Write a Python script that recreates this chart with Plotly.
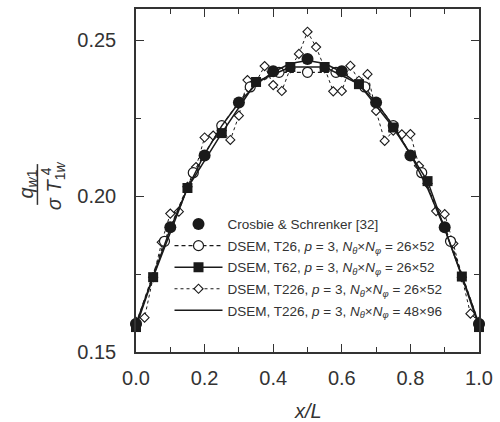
import plotly.graph_objects as go

# ---------------- data ----------------
x_crosbie = [0.0, 0.1, 0.2, 0.3, 0.4, 0.5, 0.6, 0.7, 0.8, 0.9, 1.0]
y_crosbie = [0.159, 0.190, 0.213, 0.230, 0.240, 0.244, 0.240, 0.230, 0.213, 0.190, 0.159]

x_t26 = [0.0, 0.083, 0.167, 0.25, 0.333, 0.417, 0.5, 0.583, 0.667, 0.75, 0.833, 0.917, 1.0]
y_t26 = [0.159, 0.1855, 0.2075, 0.2226, 0.2350, 0.2397, 0.2397, 0.2397, 0.2350, 0.2226, 0.2075, 0.1855, 0.159]

x_t62 = [0.0, 0.05, 0.15, 0.25, 0.35, 0.45, 0.55, 0.65, 0.75, 0.85, 0.95, 1.0]
y_t62 = [0.158, 0.174, 0.2026, 0.2202, 0.2366, 0.2414, 0.2414, 0.2359, 0.2220, 0.2048, 0.1742, 0.158]

x_t226a = [0.0, 0.025, 0.05, 0.075, 0.1, 0.125, 0.15, 0.175, 0.2, 0.225, 0.25, 0.275,
           0.3, 0.325, 0.35, 0.375, 0.4, 0.425, 0.45, 0.475, 0.5, 0.525, 0.55, 0.575,
           0.6, 0.625, 0.65, 0.675, 0.7, 0.725, 0.75, 0.775, 0.8, 0.825, 0.85, 0.875,
           0.9, 0.925, 0.95, 0.975, 1.0]
y_t226a = [0.1597, 0.1610, 0.1740, 0.1852, 0.1944, 0.1950, 0.2030, 0.2093, 0.2188, 0.2194, 0.2210, 0.2180,
           0.2258, 0.2372, 0.2366, 0.2417, 0.2356, 0.2337, 0.2410, 0.2456, 0.2527, 0.2478, 0.2410, 0.2336,
           0.2337, 0.2418, 0.2370, 0.2391, 0.2273, 0.2177, 0.2210, 0.2198, 0.2199, 0.2097, 0.2040, 0.1952,
           0.1942, 0.1848, 0.1740, 0.1623, 0.1597]

x_t226b = [0.0, 0.05, 0.1, 0.15, 0.2, 0.25, 0.3, 0.35, 0.4, 0.45, 0.5,
           0.55, 0.6, 0.65, 0.7, 0.75, 0.8, 0.85, 0.9, 0.95, 1.0]
y_t226b = [0.159, 0.1745, 0.1895, 0.2025, 0.2135, 0.2225, 0.2300, 0.2358, 0.2398, 0.2425, 0.2435,
           0.2425, 0.2398, 0.2358, 0.2300, 0.2225, 0.2135, 0.2025, 0.1895, 0.1745, 0.159]

names = [
    "Crosbie & Schrenker [32]",
    "DSEM, T26, <i>p</i> = 3, <i>N</i><sub><i>θ</i></sub>×<i>N</i><sub><i>φ</i></sub> = 26×52",
    "DSEM, T62, <i>p</i> = 3, <i>N</i><sub><i>θ</i></sub>×<i>N</i><sub><i>φ</i></sub> = 26×52",
    "DSEM, T226, <i>p</i> = 3, <i>N</i><sub><i>θ</i></sub>×<i>N</i><sub><i>φ</i></sub> = 26×52",
    "DSEM, T226, <i>p</i> = 3, <i>N</i><sub><i>θ</i></sub>×<i>N</i><sub><i>φ</i></sub> = 48×96",
]

INK = "#1a1a1a"
TXT = "#333333"
FONT = "Liberation Sans, Arial, Helvetica, sans-serif"

fig = go.Figure()

fig.add_trace(go.Scatter(
    x=x_t226a, y=y_t226a, mode="lines+markers", name=names[3], legendrank=4,
    legendgroup="d", cliponaxis=False,
    line=dict(color=INK, width=1, dash="dot"),
    marker=dict(symbol="diamond", size=7, color="white", line=dict(color=INK, width=1.1))))

fig.add_trace(go.Scatter(
    x=x_t26, y=y_t26, mode="lines+markers", name=names[1], legendrank=2,
    legendgroup="b", cliponaxis=False,
    line=dict(color=INK, width=1.2, dash="4px,3px"),
    marker=dict(symbol="circle", size=10, color="white", line=dict(color=INK, width=1.2))))

fig.add_trace(go.Scatter(
    x=x_t226b, y=y_t226b, mode="lines", name=names[4], legendrank=5,
    legendgroup="e", cliponaxis=False,
    line=dict(color=INK, width=1.5)))

fig.add_trace(go.Scatter(
    x=x_t62, y=y_t62, mode="lines+markers", name=names[2], legendrank=3,
    legendgroup="c", cliponaxis=False,
    line=dict(color=INK, width=1.5),
    marker=dict(symbol="square", size=10, color=INK, line=dict(width=0))))

fig.add_trace(go.Scatter(
    x=x_crosbie, y=y_crosbie, mode="markers", name=names[0], legendrank=1,
    legendgroup="a", cliponaxis=False,
    marker=dict(symbol="circle", size=12, color=INK, line=dict(width=0))))

axis_common = dict(
    showline=True, linecolor="#333", linewidth=1.5, mirror="allticks",
    ticks="inside", ticklen=8, tickwidth=1.2, tickcolor="#333",
    showgrid=False, zeroline=False,
    tickfont=dict(family=FONT, size=20, color=TXT),
)

fig.update_xaxes(range=[0, 1], tick0=0, dtick=0.2, tickformat=".1f",
                 minor=dict(dtick=0.1, ticks="inside", ticklen=5, tickcolor="#333", tickwidth=1.2),
                 ticklabelstandoff=7, **axis_common)
fig.update_yaxes(range=[0.15, 0.26], tick0=0.15, dtick=0.05, tickformat=".2f",
                 minor=dict(dtick=0.025, ticks="inside", ticklen=5, tickcolor="#333", tickwidth=1.2),
                 ticklabelstandoff=14, **axis_common)

L, R, T, B = 136, 16, 7, 70
W, H = 500, 422
pw, ph = W - L - R, H - T - B

def px(xp):
    return (xp - L) / pw

def py(yp):
    return (H - B - yp) / ph

ann = []
ann.append(dict(x=px(310), y=py(411), xref="paper", yref="paper", text="<i>x/L</i>",
                showarrow=False, font=dict(family=FONT, size=20, color=TXT),
                xanchor="center", yanchor="middle"))
ann.append(dict(x=px(26), y=py(183), xref="paper", yref="paper",
                text="<i>q</i><sub><i>w</i>1</sub>", textangle=-90,
                showarrow=False, font=dict(family=FONT, size=20, color=TXT),
                xanchor="center", yanchor="middle"))
ann.append(dict(x=px(55), y=py(185), xref="paper", yref="paper",
                text="<i>σ T</i><sub>1<i>w</i></sub>", textangle=-90,
                showarrow=False, font=dict(family=FONT, size=20, color=TXT),
                xanchor="center", yanchor="middle"))
ann.append(dict(x=px(45), y=py(170), xref="paper", yref="paper",
                text="4", textangle=-90,
                showarrow=False, font=dict(family=FONT, size=14, color=TXT),
                xanchor="center", yanchor="middle"))
fig.update_layout(annotations=ann)
fig.add_shape(type="line", xref="paper", yref="paper",
              x0=px(36), x1=px(36), y0=py(163), y1=py(204),
              line=dict(color=TXT, width=1.5))

fig.update_layout(
    width=W, height=H,
    margin=dict(l=L, r=R, t=T, b=B),
    paper_bgcolor="white", plot_bgcolor="white",
    font=dict(family=FONT, color=TXT),
    legend=dict(x=px(170), y=py(208), xanchor="left", yanchor="top",
                bgcolor="rgba(0,0,0,0)", borderwidth=0,
                font=dict(family=FONT, size=13.5, color=TXT),
                tracegroupgap=1, itemwidth=48),
)

fig.write_html("out.html")
